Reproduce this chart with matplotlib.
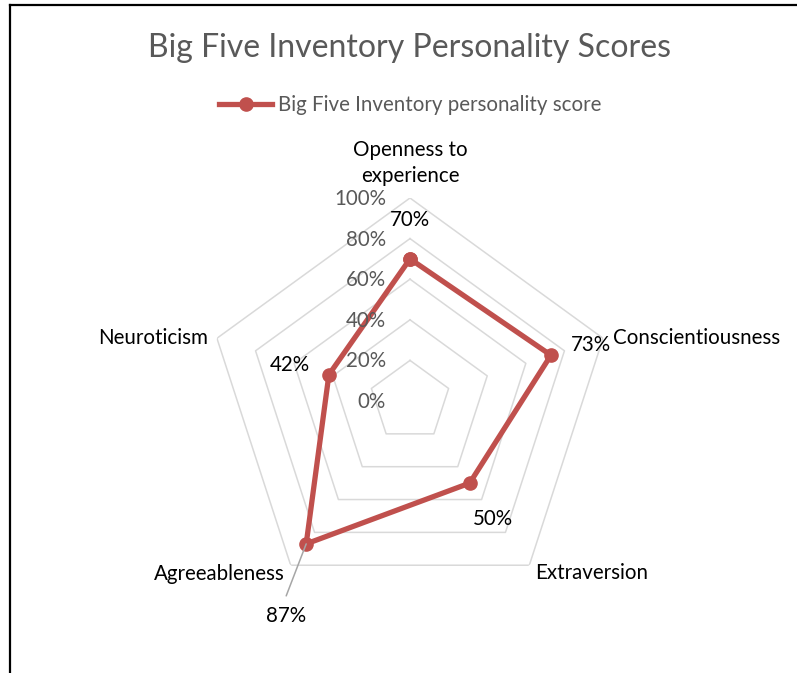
import numpy as np
import matplotlib
matplotlib.use("Agg")
import matplotlib.pyplot as plt
from matplotlib.lines import Line2D

categories = ["Openness to\nexperience", "Conscientiousness", "Extraversion",
              "Agreeableness", "Neuroticism"]
values = [0.70, 0.73, 0.50, 0.87, 0.42]
value_labels = ["70%", "73%", "50%", "87%", "42%"]
rings = [0.0, 0.2, 0.4, 0.6, 0.8, 1.0]
ring_labels = ["0%", "20%", "40%", "60%", "80%", "100%"]
series_name = "Big Five Inventory personality score"
title = "Big Five Inventory Personality Scores"

FONT = "Lato"
FS = 14.8
W, H = 797, 673
DPI = 100
fig = plt.figure(figsize=(W / DPI, H / DPI), dpi=DPI)

cx, cy, R = 410, 401, 203
ax = fig.add_axes([(cx - R) / W, (H - cy - R) / H, 2 * R / W, 2 * R / H],
                  projection="polar")
ax.set_theta_zero_location("N")
ax.set_theta_direction(-1)
ax.set_ylim(0, 1)
ax.grid(False)
ax.spines["polar"].set_visible(False)
ax.set_xticks([])
ax.set_yticks([])
ax.patch.set_alpha(0)

n = len(categories)
theta = np.linspace(0, 2 * np.pi, n, endpoint=False)
theta_c = np.append(theta, theta[0])

grid_col = "#D9D9D9"
for r in rings[1:]:
    ax.plot(theta_c, [r] * (n + 1), color=grid_col, lw=1.1, zorder=1)

vals_c = values + [values[0]]
ax.plot(theta_c, vals_c, color="#C0504D", lw=3.8, marker="o",
        markersize=9.5, zorder=3, solid_joinstyle="miter")

# radial tick labels
for r, lab in zip(rings, ring_labels):
    ax.annotate(lab, xy=(0, r), xytext=(-24, -1), textcoords="offset pixels",
                ha="right", va="center", fontsize=FS, color="#595959",
                family=FONT, annotation_clip=False)

# category labels
cat_off = [(0, 12, "center", "bottom"), (10, 0, "left", "center"),
           (6, -8, "left", "center"), (-6, -9, "right", "center"),
           (-9, 0, "right", "center")]
for t, lab, (dx, dy, ha, va) in zip(theta, categories, cat_off):
    ax.annotate(lab, xy=(t, 1), xytext=(dx, dy), textcoords="offset pixels",
                ha=ha, va=va, fontsize=FS, color="#000000", family=FONT,
                linespacing=1.35, annotation_clip=False)

# data labels
val_off = [(0, 39), (40, 10), (23, -36), (-20, -72), (-39, 10)]
for t, v, lab, (dx, dy) in zip(theta, values, value_labels, val_off):
    ax.annotate(lab, xy=(t, v), xytext=(dx, dy), textcoords="offset pixels",
                ha="center", va="center", fontsize=FS, color="#000000",
                family=FONT, annotation_clip=False, zorder=4)
# leader line for Agreeableness label
ax.annotate("", xy=(theta[3], values[3]), xytext=(-20, -52),
            textcoords="offset pixels",
            arrowprops=dict(arrowstyle="-", color="#A6A6A6", lw=1.1,
                            shrinkA=0, shrinkB=0), annotation_clip=False)

fig.text(cx / W, 1 - 48 / H, title, ha="center", va="center", fontsize=23,
         color="#595959", family=FONT)

handle = Line2D([], [], color="#C0504D", lw=3.8, marker="o", markersize=9.5)
fig.legend([handle], [series_name], loc="center",
           bbox_to_anchor=(410 / W, 1 - 105 / H), frameon=False,
           prop={"family": FONT, "size": FS}, labelcolor="#595959",
           handlelength=2.6, handletextpad=0.25)

# chart border (partial)
fig.add_artist(Line2D([10 / W, 10 / W], [0, 1 - 5 / H], color="black", lw=1.6,
                      transform=fig.transFigure))
fig.add_artist(Line2D([10 / W, 1], [1 - 5 / H, 1 - 5 / H], color="black",
                      lw=1.6, transform=fig.transFigure))

fig.savefig("out.png", dpi=DPI)
